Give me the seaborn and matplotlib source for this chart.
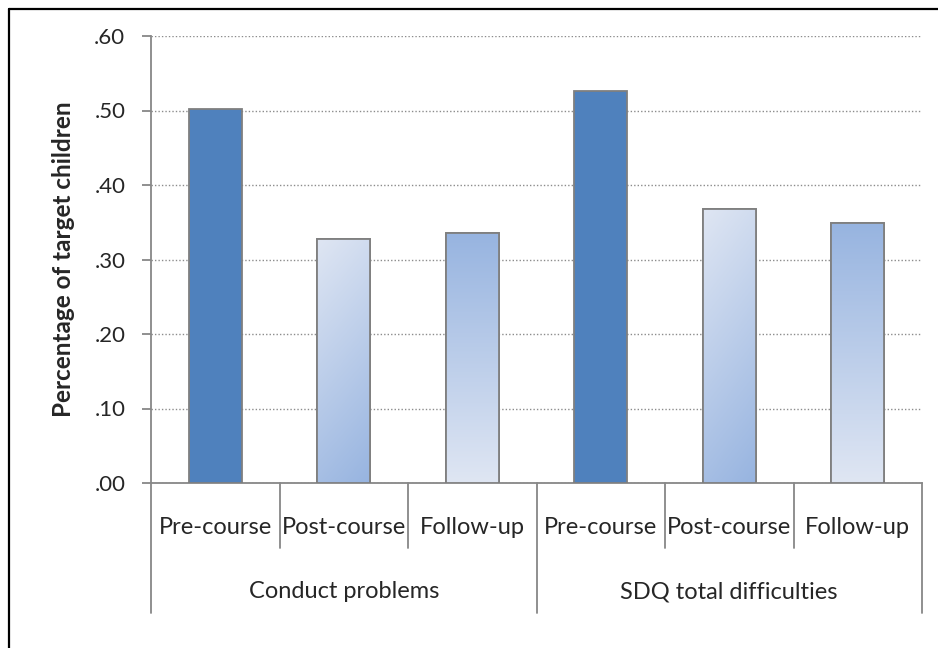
import numpy as np
import pandas as pd
import matplotlib
matplotlib.use("Agg")
import matplotlib.pyplot as plt
from matplotlib.patches import Rectangle
from matplotlib.lines import Line2D
from matplotlib.colors import LinearSegmentedColormap
import seaborn as sns

groups = ["Conduct problems", "SDQ total difficulties"]
phases = ["Pre-course", "Post-course", "Follow-up"]
conduct_values = [0.502, 0.328, 0.336]
sdq_values = [0.526, 0.368, 0.349]
y_ticks = [0.0, 0.1, 0.2, 0.3, 0.4, 0.5, 0.6]
y_tick_labels = [".00", ".10", ".20", ".30", ".40", ".50", ".60"]
y_label = "Percentage of target children"

rows = []
for g, vals in zip(groups, [conduct_values, sdq_values]):
    for p, v in zip(phases, vals):
        rows.append({"group": g, "phase": p, "slot": f"{g}|{p}", "value": v})
df = pd.DataFrame(rows)

sns.set_style("white")
plt.rcParams["font.family"] = ["Lato", "DejaVu Sans"]

W, H = 938, 648
fig = plt.figure(figsize=(W / 100, H / 100), dpi=100)
ax = fig.add_axes([151 / W, 1 - 483 / H, (922 - 151) / W, (483 - 36) / H])

dark = "#4F81BD"
light = "#DFE6F3"
blue = "#97B4E0"
slot_order = list(df["slot"])
palette = {s: (dark if s.endswith("Pre-course") else "white") for s in slot_order}
sns.barplot(data=df, x="slot", y="value", hue="slot", order=slot_order,
            palette=palette, saturation=1, width=0.41, edgecolor="#7F7F7F",
            linewidth=1.3, legend=False, ax=ax, zorder=3)

cmap = LinearSegmentedColormap.from_list("g", [light, blue])
for patch, (_, r) in zip(ax.patches, df.iterrows()):
    if r["phase"] == "Pre-course":
        continue
    x0, y0 = patch.get_x(), patch.get_y()
    w, h = patch.get_width(), patch.get_height()
    yy, xx = np.mgrid[0:1:200j, 0:1:50j]
    if r["phase"] == "Post-course":
        grad = (1 - yy) * 0.8 + xx * 0.2
    else:
        grad = yy
    im = ax.imshow(grad, cmap=cmap, vmin=0, vmax=1, origin="lower",
                   extent=[x0, x0 + w, y0, y0 + h], aspect="auto", zorder=3.5,
                   interpolation="bilinear")
    im.set_clip_path(patch)
    ax.add_patch(Rectangle((x0, y0), w, h, fill=False, edgecolor="#7F7F7F",
                           linewidth=1.3, zorder=4))

ax.set_xlim(-0.5, 5.5)
ax.set_ylim(0, 0.6)
ax.set_yticks(y_ticks)
ax.set_yticklabels(y_tick_labels, fontsize=16)
ax.set_xticks([])
ax.set_xlabel("")
ax.set_ylabel(y_label, fontsize=17.5, fontweight="bold", labelpad=14)
ax.yaxis.grid(True, linestyle=(0, (1, 1.5)), color="#8C8C8C", linewidth=1.0, zorder=0)
ax.set_axisbelow(True)
for s in ["top", "right"]:
    ax.spines[s].set_visible(False)
for s in ["left", "bottom"]:
    ax.spines[s].set_color("#878787")
    ax.spines[s].set_linewidth(1.3)
ax.tick_params(axis="y", which="major", length=6.5, width=1.3, color="#878787",
               direction="out", pad=12, left=True)

# hierarchical category axis
ah = 483 - 36
trans = ax.get_xaxis_transform()
inner_bottom = -65 / ah
outer_bottom = -130 / ah
for xb in [0.5, 1.5, 3.5, 4.5]:
    ax.plot([xb, xb], [0, inner_bottom], transform=trans, color="#878787",
            lw=1.3, clip_on=False)
for xb in [-0.5, 2.5, 5.5]:
    ax.plot([xb, xb], [0, outer_bottom], transform=trans, color="#878787",
            lw=1.3, clip_on=False)
for i, (_, r) in enumerate(df.iterrows()):
    ax.text(i, -44 / ah, r["phase"], transform=trans, ha="center", va="center",
            fontsize=17)
for gi, g in enumerate(groups):
    ax.text(gi * 3 + 1, -109 / ah, g, transform=trans, ha="center", va="center",
            fontsize=17)

# outer frame (only left and top edges are visible in the image)
fig.add_artist(Line2D([8.5 / W, 8.5 / W], [0, 1 - 8.5 / H], transform=fig.transFigure,
                      color="black", lw=1.6))
fig.add_artist(Line2D([8.5 / W, 1], [1 - 8.5 / H, 1 - 8.5 / H], transform=fig.transFigure,
                      color="black", lw=1.6))

fig.savefig("out.png", dpi=100)
